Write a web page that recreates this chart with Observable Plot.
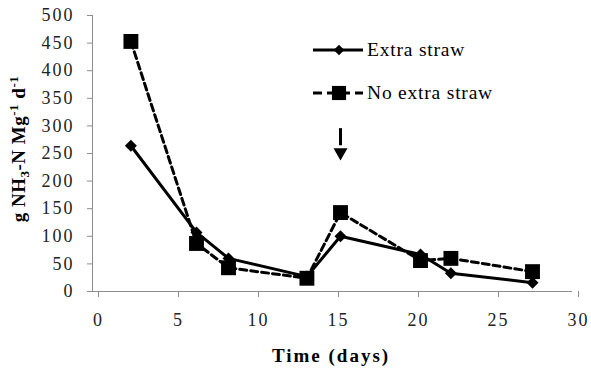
<!DOCTYPE html>
<html>
<head>
<meta charset="utf-8">
<script src="https://cdn.jsdelivr.net/npm/d3@7"></script>
<script src="https://cdn.jsdelivr.net/npm/@observablehq/plot@0.6"></script>
<style>
  html, body { margin: 0; padding: 0; background: #fff; }
  #chart { width: 591px; height: 372px; }
  #chart svg text { font-family: "Liberation Serif", "Times New Roman", Times, serif; }
</style>
</head>
<body>
<div id="chart"></div>
<script>
const days = [2.4, 6.5, 8.5, 13.4, 15.5, 20.5, 22.4, 27.5];
const extraStraw = [264, 107, 60, 27, 100, 67, 33, 16];
const noExtraStraw = [453, 87, 43, 24, 143, 56, 60, 36];
const seriesNames = ["Extra straw", "No extra straw"];
const xTicks = [0, 5, 10, 15, 20, 25, 30];
const yTicks = [0, 50, 100, 150, 200, 250, 300, 350, 400, 450, 500];
const arrowDay = [15.5];
const arrowShaft = [264, 295];
const arrowHead = [252];

const extra = days.map((d, i) => ({day: d, value: extraStraw[i]}));
const noExtra = days.map((d, i) => ({day: d, value: noExtraStraw[i]}));

const axisColor = "#8c8c8c";

const plot = Plot.plot({
  width: 591,
  height: 372,
  marginLeft: 92,
  marginRight: 19,
  marginTop: 15,
  marginBottom: 81,
  style: {fontSize: "18px", color: "#222", background: "#fff"},
  x: {domain: [0, 30]},
  y: {domain: [0, 500]},
  marks: [
    Plot.ruleY([0], {stroke: axisColor}),
    Plot.ruleX([0], {stroke: axisColor}),
    Plot.axisX(xTicks, {tickSize: 6, tickPadding: 16, stroke: axisColor, label: null, dx: 6, fill: "#222", fontSize: 18}),
    Plot.axisY(yTicks, {tickSize: 5, tickPadding: 13, stroke: axisColor, label: null, fill: "#222", fontSize: 18}),
    Plot.line(noExtra, {x: "day", y: "value", stroke: "#000", strokeWidth: 3, strokeDasharray: "7,4"}),
    Plot.line(extra, {x: "day", y: "value", stroke: "#000", strokeWidth: 3}),
    Plot.dot(noExtra, {x: "day", y: "value", symbol: "square", r: 8.4, fill: "#000"}),
    Plot.dot(extra, {x: "day", y: "value", symbol: "diamond2", r: 5.4, fill: "#000"}),
    Plot.ruleX(arrowDay, {y1: arrowShaft[0], y2: arrowShaft[1], stroke: "#000", strokeWidth: 3}),
    Plot.dot(arrowDay, {x: d => d, y: arrowHead[0], symbol: "triangle", rotate: 180, r: 5.2, fill: "#000"})
  ]
});

const svg = d3.select(plot);
svg.selectAll("[aria-label='x-axis tick label'] text, [aria-label='y-axis tick label'] text")
  .attr("letter-spacing", "2px");

// Y axis label with subscript / superscripts
const yl = svg.append("text")
  .attr("transform", "translate(25,149) rotate(-90)")
  .attr("text-anchor", "middle")
  .attr("font-weight", "bold")
  .attr("font-size", "19px")
  .attr("letter-spacing", "0.5px")
  .attr("fill", "#000");
yl.append("tspan").text("g NH");
yl.append("tspan").attr("font-size", "13px").attr("dy", "4").text("3");
yl.append("tspan").attr("dy", "-4").text("-N Mg");
yl.append("tspan").attr("font-size", "13px").attr("dy", "-7").text("-1");
yl.append("tspan").attr("dy", "7").text(" d");
yl.append("tspan").attr("font-size", "13px").attr("dy", "-7").text("-1");

// X axis label
svg.append("text")
  .attr("x", 331).attr("y", 362)
  .attr("text-anchor", "middle")
  .attr("font-weight", "bold")
  .attr("font-size", "19px")
  .attr("letter-spacing", "2px")
  .attr("fill", "#000")
  .text("Time (days)");

// Legend
const legend = svg.append("g");
const rows = [
  {name: seriesNames[0], y: 50, dash: null, sym: d3.symbolDiamond2, size: 70},
  {name: seriesNames[1], y: 93, dash: "9,5", sym: d3.symbolSquare, size: 200}
];
rows.forEach(r => {
  legend.append("line")
    .attr("x1", 313).attr("x2", 363).attr("y1", r.y).attr("y2", r.y)
    .attr("stroke", "#000").attr("stroke-width", 3)
    .attr("stroke-dasharray", r.dash);
  legend.append("path")
    .attr("d", d3.symbol(r.sym, r.size)())
    .attr("transform", `translate(339,${r.y})`)
    .attr("fill", "#000");
  legend.append("text")
    .attr("x", 367).attr("y", r.y + 6)
    .attr("text-anchor", "start")
    .attr("font-size", "19.5px")
    .attr("letter-spacing", "0.8px")
    .attr("fill", "#000")
    .text(r.name);
});

document.getElementById("chart").appendChild(plot);
</script>
</body>
</html>
